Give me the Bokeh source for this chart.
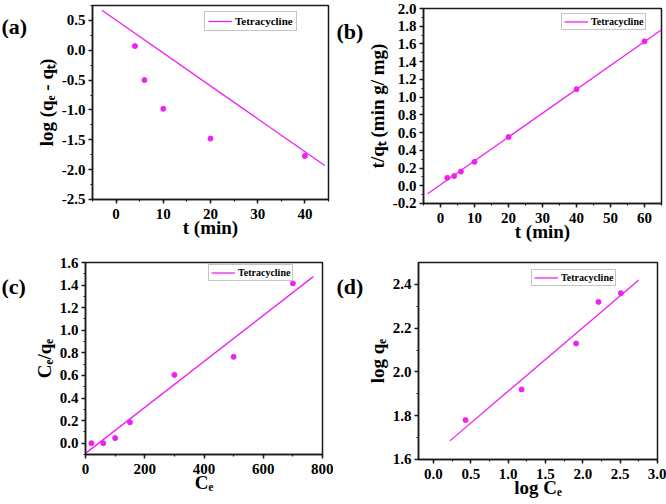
from bokeh.plotting import figure
from bokeh.models import (Label, SingleIntervalTicker, NumeralTickFormatter, Range1d,
                          Legend, LegendItem)
from bokeh.layouts import row, column
from bokeh.embed import file_html
from bokeh.resources import INLINE

FONT = "Liberation Serif"
MAG = "#F020F0"
LEGEND_LABEL = "Tetracycline"

# ---------------- data ----------------
# (a) pseudo-first-order
a_t = [4, 6, 10, 20, 40]
a_log = [0.07, -0.50, -0.98, -1.48, -1.77]
a_fit_t = [-3.0, 44.2]
a_fit_log = [0.67, -1.93]

# (b) pseudo-second-order
b_t = [2, 4, 6, 10, 20, 40, 60]
b_tq = [0.09, 0.11, 0.16, 0.27, 0.55, 1.09, 1.63]
b_fit_t = [-3.8, 65.0]
b_fit_tq = [-0.09, 1.76]

# (c) Langmuir
c_ce = [20, 60, 100, 150, 300, 500, 700]
c_ceqe = [0.0, 0.0, 0.045, 0.185, 0.605, 0.765, 1.415]
c_fit_ce = [0.0, 769.0]
c_fit_ceqe = [-0.09, 1.475]

# (d) Freundlich
d_logce = [0.43, 1.18, 1.91, 2.21, 2.51]
d_logqe = [1.78, 1.92, 2.13, 2.32, 2.36]
d_fit_logce = [0.22, 2.75]
d_fit_logqe = [1.685, 2.42]

PANEL_TAGS = ["(a)", "(b)", "(c)", "(d)"]
X_LABELS = ["t (min)", "t (min)", "C\u2091", "log C\u2091"]
Y_LABELS = ["log (q\u2091 - q\u209c)", "t/q\u209c (min g/ mg)", "C\u2091/q\u2091", "log q\u2091"]

BLOCK_W, BLOCK_H, TAG_W = 333, 252, 30


def tag_fig(text, x, baseline):
    p = figure(width=TAG_W, height=BLOCK_H, x_range=Range1d(0, TAG_W), y_range=Range1d(0, BLOCK_H),
               output_backend="svg", toolbar_location=None, min_border=0,
               x_axis_location=None, y_axis_location=None)
    p.grid.visible = False
    p.outline_line_color = None
    p.background_fill_color = "white"
    p.border_fill_color = "white"
    p.add_layout(Label(x=x, y=BLOCK_H - baseline, text=text, text_font=FONT,
                       text_font_style="bold", text_font_size="22px", text_color="black",
                       text_align="left", text_baseline="alphabetic"))
    return p


def make_fig(xr, yr, left, right, top, fh, xint, yint, xfmt, yfmt, xlabel, ylabel):
    W = BLOCK_W - TAG_W
    p = figure(width=W, height=BLOCK_H, x_range=Range1d(*xr), y_range=Range1d(*yr),
               output_backend="svg", toolbar_location=None,
               min_border_left=left, min_border_right=right, min_border_top=top,
               min_border_bottom=BLOCK_H - top - fh)
    p.grid.visible = False
    p.background_fill_color = "white"
    p.border_fill_color = "white"
    p.outline_line_color = "#1a1a1a"
    p.outline_line_width = 1.5
    p.xaxis.ticker = SingleIntervalTicker(interval=xint, num_minor_ticks=2)
    p.yaxis.ticker = SingleIntervalTicker(interval=yint, num_minor_ticks=2)
    p.xaxis.formatter = NumeralTickFormatter(format=xfmt)
    p.yaxis.formatter = NumeralTickFormatter(format=yfmt)
    p.xaxis.axis_label = xlabel
    p.yaxis.axis_label = ylabel
    for ax in (p.xaxis[0], p.yaxis[0]):
        ax.axis_line_color = "#1a1a1a"
        ax.axis_line_width = 1.5
        ax.major_tick_line_color = "#1a1a1a"
        ax.major_tick_line_width = 1.5
        ax.minor_tick_line_color = "#1a1a1a"
        ax.minor_tick_line_width = 1.2
        ax.major_tick_in = 0
        ax.major_tick_out = 4
        ax.minor_tick_in = 0
        ax.minor_tick_out = 2
        ax.major_label_text_font = FONT
        ax.major_label_text_font_style = "bold"
        ax.major_label_text_font_size = "15px"
        ax.major_label_text_color = "black"
        ax.axis_label_text_font = FONT
        ax.axis_label_text_font_style = "bold"
        ax.axis_label_text_font_size = "19px"
        ax.axis_label_text_color = "black"
    p.xaxis.major_label_standoff = 5
    p.yaxis.major_label_standoff = 3
    p.xaxis.axis_label_standoff = -5
    p.yaxis.axis_label_standoff = 2
    return p


def add_data(p, fx, fy, px, py, dx, dtop, fh, fsize, pad, lab_h, glyph_w):
    line = p.line(fx, fy, line_color=MAG, line_width=1.3)
    p.scatter(px, py, marker="circle", size=5, fill_color=MAG, line_color=MAG)
    lh = 2 * pad + lab_h
    leg = Legend(items=[LegendItem(label=LEGEND_LABEL, renderers=[line])],
                 location=(dx, fh - dtop - lh))
    leg.border_line_color = "#8a8a8a"
    leg.border_line_width = 1
    leg.background_fill_color = "white"
    leg.background_fill_alpha = 1
    leg.padding = pad
    leg.margin = 0
    leg.spacing = 0
    leg.glyph_width = glyph_w
    leg.glyph_height = lab_h
    leg.label_height = lab_h
    leg.label_standoff = 3
    leg.label_text_font = FONT
    leg.label_text_font_style = "bold"
    leg.label_text_font_size = f"{fsize}px"
    leg.label_text_color = "black"
    leg.label_text_baseline = "middle"
    p.add_layout(leg)


# ---------------- (a) ----------------
pa = make_fig((-5, 45), (-2.5001, 0.75), 62, 5, 5, 194, 10, 0.5, "0", "0.0",
              X_LABELS[0], Y_LABELS[0])
add_data(pa, a_fit_t, a_fit_log, a_t, a_log, 112, 10, 194, 11, 3, 10, 24)
block_a = row(tag_fig(PANEL_TAGS[0], 1, 27), pa)

# ---------------- (b) ----------------
pb = make_fig((-5, 65), (-0.2001, 2.0001), 59, 5, 8, 195, 10, 0.2, "0", "0.0",
              X_LABELS[1], Y_LABELS[1])
add_data(pb, b_fit_t, b_fit_tq, b_t, b_tq, 138, 8.7, 195, 10, 2, 9, 24)
block_b = row(tag_fig(PANEL_TAGS[1], 3, 30), pb)

# ---------------- (c) ----------------
pc = make_fig((0, 800), (-0.1, 1.6001), 52, 11, 10, 192, 200, 0.2, "0", "0.0",
              X_LABELS[2], Y_LABELS[2])
add_data(pc, c_fit_ce, c_fit_ceqe, c_ce, c_ceqe, 123, 6, 192, 10, 2, 9, 24)
block_c = row(tag_fig(PANEL_TAGS[2], 1, 32), pc)

# ---------------- (d) ----------------
pd_ = make_fig((-0.2, 3.0001), (1.5999, 2.5), 53, 9, 10, 197, 0.5, 0.2, "0.0", "0.0",
               X_LABELS[3], Y_LABELS[3])
add_data(pd_, d_fit_logce, d_fit_logqe, d_logce, d_logqe, 113, 11, 197, 10, 2, 9, 24)
block_d = row(tag_fig(PANEL_TAGS[3], 3, 31), pd_)

layout = column(row(block_a, block_b), row(block_c, block_d))

open("out.html", "w").write(file_html(layout, INLINE))
